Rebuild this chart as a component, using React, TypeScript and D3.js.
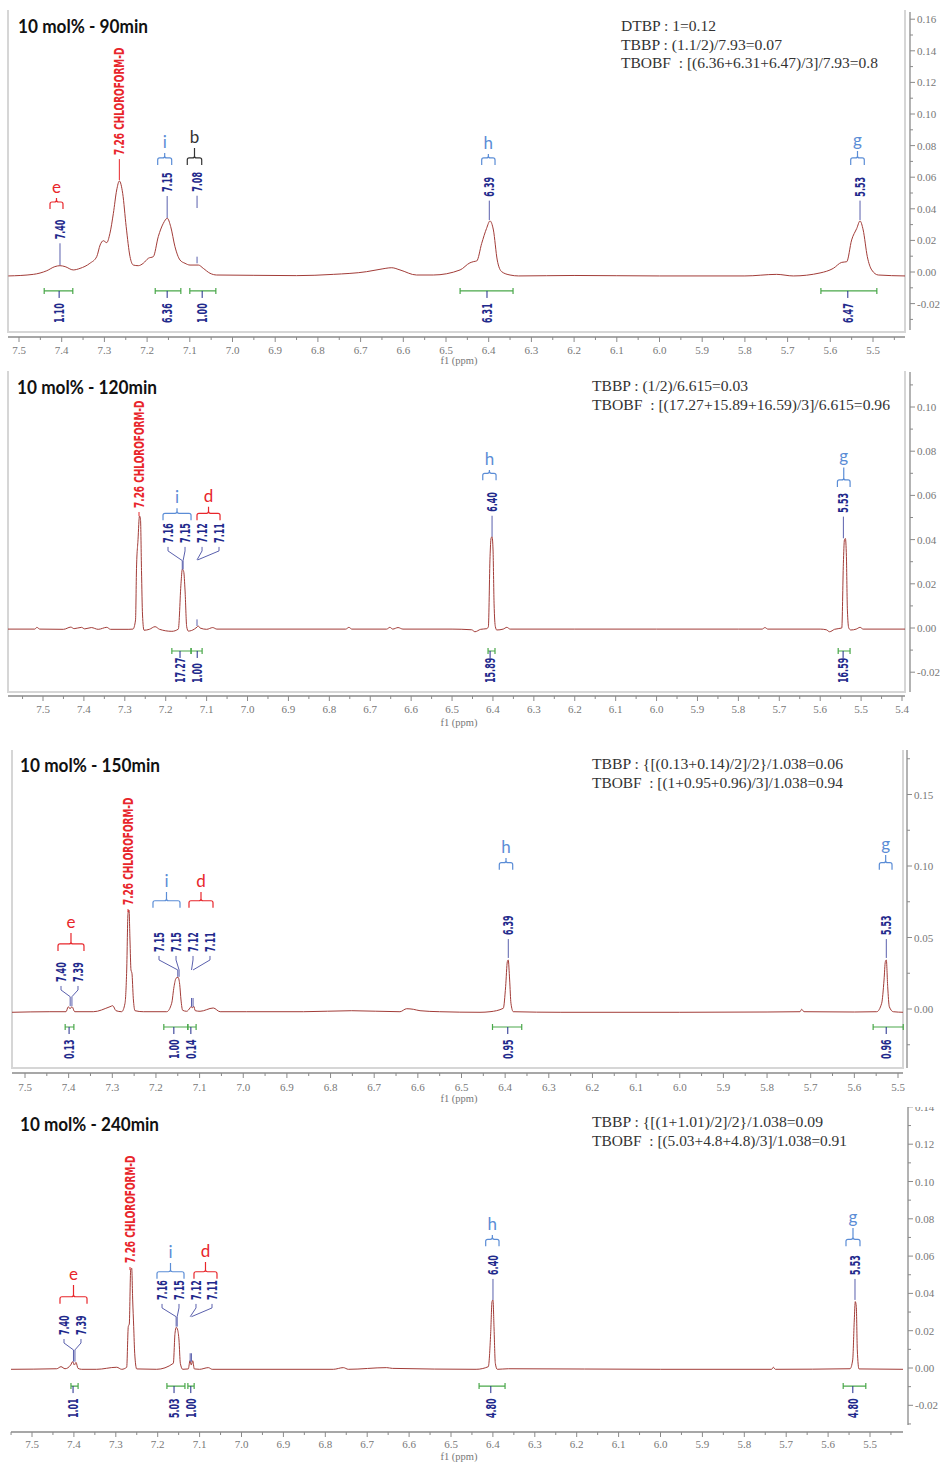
import React from 'react';
import * as d3 from 'd3';

type Pt = [number, number];
interface PeakLabel { text: string; at: number; peak: number; base: number; bend: number; end?: number; mark?: [number, number]; solvent?: boolean; }
interface Group { letter: string; from: number; to: number; bar: number; text: number; }
interface Integral { text: string; from: number; to: number; at: number; }

// ---------------- data ----------------
const titles = ['10 mol% - 90min', '10 mol% - 120min', '10 mol% - 150min', '10 mol% - 240min'];

const spectrum90: Pt[] = [
  [7.525, -0.0025], [7.4665, -0.0015], [7.435, 0.0008], [7.416, 0.0034], [7.404, 0.004], [7.392, 0.0034],
  [7.373, 0.0013], [7.357, 0.0023], [7.334, 0.0055], [7.318, 0.0097], [7.31, 0.0171], [7.3026, 0.0198],
  [7.2946, 0.0186], [7.287, 0.0245], [7.279, 0.0371], [7.2712, 0.0519], [7.265, 0.0576], [7.2572, 0.0498],
  [7.249, 0.0287], [7.24, 0.0097], [7.2323, 0.0044], [7.2206, 0.004], [7.209, 0.0055], [7.197, 0.0087],
  [7.1855, 0.0097], [7.1738, 0.0224], [7.162, 0.0308], [7.1527, 0.034], [7.1447, 0.0287], [7.1347, 0.016],
  [7.123, 0.0076], [7.1112, 0.0055], [7.0995, 0.0044], [7.08, 0.0044], [7.0684, 0.0023], [7.0527, -0.0008],
  [7.037, -0.0019], [6.95, -0.0021], [6.85, -0.0023], [6.764, -0.0015], [6.686, 0.0002], [6.6546, 0.0017],
  [6.627, 0.0027], [6.6077, 0.0013], [6.569, -0.0019], [6.5297, -0.0019], [6.467, 0.0013], [6.444, 0.0058],
  [6.435, 0.0066], [6.428, 0.007], [6.4164, 0.0181], [6.405, 0.0276], [6.397, 0.0323], [6.389, 0.0266],
  [6.38, 0.0076], [6.3696, 0.0002], [6.35, -0.0019], [6.33, -0.0025], [6.2, -0.0022], [6.0, -0.0025],
  [5.8, -0.0025], [5.7255, -0.0015], [5.6866, -0.0025], [5.624, -0.0006], [5.593, 0.0023], [5.5733, 0.0061],
  [5.5616, 0.0065], [5.55, 0.0203], [5.538, 0.0276], [5.5304, 0.0323], [5.523, 0.0266], [5.5133, 0.0097],
  [5.503, 0.0013], [5.4876, -0.0019], [5.425, -0.0025],
];

const spectrum120: Pt[] = [
  [7.586, -0.0005], [7.52, -0.0005], [7.515, 0.0003], [7.508, -0.0005], [7.45, -0.0006], [7.432, 0.0004],
  [7.424, -0.0003], [7.406, 0.0003], [7.398, -0.0004], [7.382, 0.0002], [7.365, -0.0006], [7.344, 0.0003],
  [7.335, -0.0006], [7.29, -0.0006], [7.28, -0.0005], [7.2738, 0.0036], [7.2714, 0.027], [7.2677, 0.04],
  [7.2641, 0.0507], [7.2616, 0.049], [7.2592, 0.026], [7.2567, 0.0059], [7.2531, -0.001], [7.24, -0.0006],
  [7.226, 0.0006], [7.215, -0.0006], [7.185, -0.0015], [7.1692, -0.0005], [7.1626, 0.0202], [7.1594, 0.0266],
  [7.156, 0.0255], [7.1528, 0.0172], [7.1487, 0.0006], [7.1447, -0.0014], [7.13, -0.0005], [7.1235, 0.0004],
  [7.1205, 0.0009], [7.116, 0.0], [7.1, -0.0006], [7.085, 0.0002], [7.075, -0.0005], [6.76, -0.0005],
  [6.752, 0.0003], [6.745, -0.0005], [6.66, -0.0005], [6.652, 0.0003], [6.645, -0.0005], [6.632, 0.0002],
  [6.62, -0.0005], [6.5, -0.0005], [6.452, -0.0008], [6.444, -0.0017], [6.43, -0.0006], [6.415, -0.0003],
  [6.4112, 0.0006], [6.4071, 0.0323], [6.4046, 0.0406], [6.4022, 0.0413], [6.3998, 0.0353], [6.3973, 0.0112],
  [6.3941, 0.0006], [6.3907, -0.0009], [6.375, -0.0005], [6.366, 0.0003], [6.358, -0.0005], [6.2, -0.0005],
  [6.0, -0.0005], [5.8, -0.0005], [5.742, -0.0005], [5.735, 0.0002], [5.728, -0.0005], [5.6, -0.0005],
  [5.585, -0.0008], [5.577, -0.0017], [5.565, -0.0006], [5.5472, 0.0], [5.5433, 0.0293], [5.5408, 0.0398],
  [5.5384, 0.0405], [5.5359, 0.0323], [5.5335, 0.0081], [5.5301, 0.0], [5.5252, -0.0009], [5.512, -0.0005],
  [5.5025, 0.0003], [5.495, -0.0005], [5.392, -0.0005],
];

const spectrum150: Pt[] = [
  [7.53, -0.0023], [7.443, -0.0019], [7.4061, -0.0019], [7.4008, 0.0016], [7.3969, 0.0002], [7.3923, 0.0016],
  [7.3861, -0.0019], [7.3435, -0.0019], [7.3053, 0.0016], [7.299, 0.0023], [7.2915, -0.0012], [7.2785, -0.0019],
  [7.2709, 0.004], [7.267, 0.0273], [7.264, 0.0669], [7.2617, 0.0692], [7.2595, 0.0483], [7.2572, 0.0273],
  [7.255, 0.025], [7.2519, 0.0075], [7.248, -0.0012], [7.229, -0.0019], [7.1754, -0.0019], [7.164, 0.004],
  [7.1586, 0.0156], [7.154, 0.0215], [7.1495, 0.0222], [7.1456, 0.0172], [7.1426, 0.0063], [7.1388, -0.0009],
  [7.1296, -0.0016], [7.122, 0.0007], [7.119, 0.0019], [7.1167, 0.0007], [7.1135, 0.0019], [7.1098, -0.0012],
  [7.099, -0.0016], [7.0686, 0.0007], [7.053, -0.0019], [6.992, -0.0019], [6.862, -0.0019], [6.7516, -0.0012],
  [6.641, -0.0019], [6.6256, 0.0002], [6.6104, -0.0002], [6.595, -0.0012], [6.55, -0.0019], [6.4576, -0.0023],
  [6.4347, -0.0019], [6.4043, 0.0005], [6.3989, 0.0156], [6.395, 0.0331], [6.393, 0.0343], [6.3897, 0.0203],
  [6.3867, 0.004], [6.3813, -0.0019], [6.274, -0.0023], [6.0, -0.0023], [5.8, -0.0021], [5.7245, -0.0019],
  [5.7207, -0.0002], [5.7154, -0.0019], [5.6, -0.0021], [5.5488, -0.0019], [5.5374, 0.004], [5.532, 0.0203],
  [5.529, 0.0331], [5.5268, 0.0343], [5.5236, 0.0156], [5.5199, 0.0016], [5.5107, -0.0019], [5.4878, -0.0023],
];

const spectrum240: Pt[] = [
  [7.5501, -0.0007], [7.441, -0.0004], [7.4308, 0.0007], [7.4212, -0.0004], [7.4077, 0.0016], [7.4029, 0.0034],
  [7.399, 0.0016], [7.395, 0.003], [7.3902, -0.0002], [7.3814, -0.0007], [7.3456, -0.0007], [7.2978, 0.0004],
  [7.2859, -0.0007], [7.274, 0.0004], [7.2702, 0.0222], [7.2678, 0.0236], [7.2645, 0.0525], [7.262, 0.0535],
  [7.2597, 0.0365], [7.2573, 0.0222], [7.2549, 0.0079], [7.2501, -0.0005], [7.2024, -0.0007], [7.1627, 0.0025],
  [7.1587, 0.0186], [7.1556, 0.0218], [7.1523, 0.0204], [7.1492, 0.015], [7.146, 0.0025], [7.1403, -0.0007],
  [7.127, -0.0005], [7.1229, 0.0039], [7.1198, 0.0016], [7.1165, 0.0039], [7.1126, -0.0005], [7.1, -0.0007],
  [7.0792, 0.0002], [7.07, -0.0007], [6.7808, -0.0007], [6.757, 0.0002], [6.745, -0.0007], [6.6535, 0.0002],
  [6.64, -0.0002], [6.44, -0.0007], [6.411, 0.0007], [6.4053, 0.0186], [6.4021, 0.0356], [6.3998, 0.0365],
  [6.3974, 0.0222], [6.3942, 0.0025], [6.3895, -0.0007], [6.3632, -0.0004], [6.0, -0.0007], [5.7346, -0.0007],
  [5.7308, 0.0004], [5.726, -0.0007], [5.5477, -0.0004], [5.5413, 0.0043], [5.5375, 0.0257], [5.5351, 0.0356],
  [5.5327, 0.0329], [5.5303, 0.0097], [5.5263, -0.0005], [5.4205, -0.0007],
];

const peaks90: PeakLabel[] = [
  { text: '7.26 CHLOROFORM-D', at: 7.265, peak: 7.265, base: 0.074, bend: 0.0582, solvent: true },
  { text: '7.40', at: 7.404, peak: 7.404, base: 0.0207, bend: 0.0044 },
  { text: '7.15', at: 7.153, peak: 7.153, base: 0.0506, bend: 0.0342 },
  { text: '7.08', at: 7.083, peak: 7.083, base: 0.0508, bend: 0.0405, mark: [0.0097, 0.0055] },
  { text: '6.39', at: 6.3986, peak: 6.3986, base: 0.0477, bend: 0.0329 },
  { text: '5.53', at: 5.5304, peak: 5.5304, base: 0.0477, bend: 0.0329 },
];
const peaks120: PeakLabel[] = [
  { text: '7.26 CHLOROFORM-D', at: 7.2653, peak: 7.2653, base: 0.0543, bend: 0.0507, solvent: true },
  { text: '7.16', at: 7.1944, peak: 7.1595, base: 0.0385, bend: 0.0305, end: 0.0265 },
  { text: '7.15', at: 7.1528, peak: 7.1575, base: 0.0385, bend: 0.0305, end: 0.0265 },
  { text: '7.12', at: 7.1112, peak: 7.1235, base: 0.0385, bend: 0.0308, mark: [0.0039, 0.0009] },
  { text: '7.11', at: 7.0697, peak: 7.122, base: 0.0385, bend: 0.0308 },
  { text: '6.40', at: 6.4022, peak: 6.4022, base: 0.0526, bend: 0.0413 },
  { text: '5.53', at: 5.5433, peak: 5.5433, base: 0.0522, bend: 0.0406 },
];
const peaks150: PeakLabel[] = [
  { text: '7.26 CHLOROFORM-D', at: 7.264, peak: 7.264, base: 0.0727, bend: 0.0678, solvent: true },
  { text: '7.40', at: 7.4175, peak: 7.3965, base: 0.0189, bend: 0.0086, end: 0.002 },
  { text: '7.39', at: 7.3786, peak: 7.3925, base: 0.0189, bend: 0.0086, end: 0.002 },
  { text: '7.15', at: 7.193, peak: 7.15, base: 0.0399, bend: 0.0273, end: 0.0225 },
  { text: '7.15', at: 7.154, peak: 7.147, base: 0.0399, bend: 0.0273, end: 0.0225 },
  { text: '7.12', at: 7.1151, peak: 7.1185, base: 0.0399, bend: 0.0273, mark: [0.0077, 0.0016] },
  { text: '7.11', at: 7.0762, peak: 7.115, base: 0.0399, bend: 0.0273, mark: [0.0077, 0.0016] },
  { text: '6.39', at: 6.3928, peak: 6.3928, base: 0.0517, bend: 0.0357 },
  { text: '5.53', at: 5.5268, peak: 5.5268, base: 0.0517, bend: 0.0357 },
];
const peaks240: PeakLabel[] = [
  { text: '7.26 CHLOROFORM-D', at: 7.2661, peak: 7.2661, base: 0.0563, bend: 0.0525, solvent: true },
  { text: '7.40', at: 7.4236, peak: 7.401, base: 0.0177, bend: 0.0097, end: 0.0034 },
  { text: '7.39', at: 7.3831, peak: 7.3975, base: 0.0177, bend: 0.0097, end: 0.0034 },
  { text: '7.16', at: 7.1897, peak: 7.156, base: 0.0365, bend: 0.0275, end: 0.0222 },
  { text: '7.15', at: 7.1492, peak: 7.1535, base: 0.0365, bend: 0.0275, end: 0.0222 },
  { text: '7.12', at: 7.1086, peak: 7.1225, base: 0.0365, bend: 0.0275, mark: [0.0079, 0.0034] },
  { text: '7.11', at: 7.0704, peak: 7.1195, base: 0.0365, bend: 0.0275, mark: [0.0079, 0.0034] },
  { text: '6.40', at: 6.3998, peak: 6.3998, base: 0.0499, bend: 0.0365 },
  { text: '5.53', at: 5.5358, peak: 5.5358, base: 0.0499, bend: 0.0365 },
];

const groups90: Group[] = [
  { letter: 'e', from: 7.4274, to: 7.397, bar: 0.0443, text: 0.05 },
  { letter: 'i', from: 7.1752, to: 7.1424, bar: 0.0722, text: 0.0785 },
  { letter: 'b', from: 7.1059, to: 7.0721, bar: 0.0722, text: 0.0816 },
  { letter: 'h', from: 6.4164, to: 6.3852, bar: 0.0722, text: 0.0778 },
  { letter: 'g', from: 5.5522, to: 5.5204, bar: 0.0722, text: 0.0797 },
];
const groups120: Group[] = [
  { letter: 'i', from: 7.2066, to: 7.1381, bar: 0.0519, text: 0.0564 },
  { letter: 'd', from: 7.1235, to: 7.0672, bar: 0.0519, text: 0.0571 },
  { letter: 'h', from: 6.4249, to: 6.3924, bar: 0.07, text: 0.0738 },
  { letter: 'g', from: 5.5579, to: 5.5269, bar: 0.067, text: 0.0749 },
];
const groups150: Group[] = [
  { letter: 'e', from: 7.4244, to: 7.3649, bar: 0.0455, text: 0.0566 },
  { letter: 'i', from: 7.2068, to: 7.1449, bar: 0.0757, text: 0.0853 },
  { letter: 'd', from: 7.1243, to: 7.0693, bar: 0.0757, text: 0.0853 },
  { letter: 'h', from: 6.4134, to: 6.3827, bar: 0.1023, text: 0.1091 },
  { letter: 'g', from: 5.5428, to: 5.5137, bar: 0.1023, text: 0.1112 },
];
const groups240: Group[] = [
  { letter: 'e', from: 7.4332, to: 7.3687, bar: 0.0382, text: 0.0472 },
  { letter: 'i', from: 7.2017, to: 7.1372, bar: 0.0516, text: 0.059 },
  { letter: 'd', from: 7.1134, to: 7.0585, bar: 0.0516, text: 0.0595 },
  { letter: 'h', from: 6.4172, to: 6.3854, bar: 0.069, text: 0.074 },
  { letter: 'g', from: 5.5573, to: 5.5239, bar: 0.069, text: 0.0777 },
];

const integrals90: Integral[] = [
  { text: '1.10', from: 7.441, to: 7.374, at: 7.406 },
  { text: '6.36', from: 7.181, to: 7.121, at: 7.153 },
  { text: '1.00', from: 7.1, to: 7.039, at: 7.071 },
  { text: '6.31', from: 6.467, to: 6.343, at: 6.404 },
  { text: '6.47', from: 5.622, to: 5.491, at: 5.559 },
];
const integrals120: Integral[] = [
  { text: '17.27', from: 7.185, to: 7.138, at: 7.165 },
  { text: '1.00', from: 7.138, to: 7.111, at: 7.123 },
  { text: '15.89', from: 6.412, to: 6.395, at: 6.407 },
  { text: '16.59', from: 5.556, to: 5.527, at: 5.544 },
];
const integrals150: Integral[] = [
  { text: '0.13', from: 7.408, to: 7.388, at: 7.399 },
  { text: '1.00', from: 7.182, to: 7.127, at: 7.159 },
  { text: '0.14', from: 7.127, to: 7.108, at: 7.12 },
  { text: '0.95', from: 6.429, to: 6.362, at: 6.394 },
  { text: '0.96', from: 5.557, to: 5.488, at: 5.527 },
];
const integrals240: Integral[] = [
  { text: '1.01', from: 7.407, to: 7.39, at: 7.402 },
  { text: '5.03', from: 7.178, to: 7.135, at: 7.161 },
  { text: '1.00', from: 7.128, to: 7.113, at: 7.121 },
  { text: '4.80', from: 6.433, to: 6.371, at: 6.405 },
  { text: '4.80', from: 5.564, to: 5.51, at: 5.541 },
];
const integralLevels = [-0.012, -0.0104, -0.0126, -0.0097];

const formulas90 = ['DTBP : 1=0.12', 'TBBP : (1.1/2)/7.93=0.07', 'TBOBF  : [(6.36+6.31+6.47)/3]/7.93=0.8'];
const formulas120 = ['TBBP : (1/2)/6.615=0.03', 'TBOBF  : [(17.27+15.89+16.59)/3]/6.615=0.96'];
const formulas150 = ['TBBP : {[(0.13+0.14)/2]/2}/1.038=0.06', 'TBOBF  : [(1+0.95+0.96)/3]/1.038=0.94'];
const formulas240 = ['TBBP : {[(1+1.01)/2]/2}/1.038=0.09', 'TBOBF  : [(5.03+4.8+4.8)/3]/1.038=0.91'];

const spectra = [spectrum90, spectrum120, spectrum150, spectrum240];
const peakSets = [peaks90, peaks120, peaks150, peaks240];
const groupSets = [groups90, groups120, groups150, groups240];
const integralSets = [integrals90, integrals120, integrals150, integrals240];
const formulaSets = [formulas90, formulas120, formulas150, formulas240];

// ---------------- layout & style ----------------
const layouts = [
  { clip: [0, 368], xDomain: [7.5, 5.5], xRange: [19, 873], yDomain: [0, 0.16], yRange: [272, 19.2],
    frame: { l: 8, r: 905, t: 10, b: 332, show: true }, axisY: 337, tickLabelY: 354, unitY: 364,
    yAxisX: 910, yAxisTop: 12, yAxisBottom: 330, yMajor: 0.02, yMinor: 0.01,
    title: [18, 33, 130], formulaX: 621, formulaY: [31, 49.5, 68], formulaW: [95, 161, 257] },
  { clip: [368, 732], xDomain: [7.5, 5.4], xRange: [43, 902], yDomain: [0, 0.1], yRange: [628, 407],
    frame: { l: 8, r: 905, t: 371, b: 692, show: true }, axisY: 696, tickLabelY: 713, unitY: 726,
    yAxisX: 910, yAxisTop: 372, yAxisBottom: 692, yMajor: 0.02, yMinor: 0.01,
    title: [17, 394, 140], formulaX: 592, formulaY: [391, 410], formulaW: [156, 298] },
  { clip: [738, 1104], xDomain: [7.5, 5.5], xRange: [25, 898], yDomain: [0, 0.15], yRange: [1009, 794.5],
    frame: { l: 12, r: 903, t: 750, b: 1068, show: true }, axisY: 1073, tickLabelY: 1091, unitY: 1102,
    yAxisX: 907, yAxisTop: 750, yAxisBottom: 1068, yMajor: 0.05, yMinor: 0.025,
    title: [20, 772, 140], formulaX: 592, formulaY: [769, 788], formulaW: [251, 251] },
  { clip: [1107, 1462], xDomain: [7.5, 5.5], xRange: [32, 870], yDomain: [0, 0.12], yRange: [1368, 1144.2],
    frame: { l: 11, r: 903, t: 1107, b: 1428, show: false }, axisY: 1432, tickLabelY: 1448, unitY: 1460,
    yAxisX: 908, yAxisTop: 1107, yAxisBottom: 1425, yMajor: 0.02, yMinor: 0.01,
    title: [20, 1131, 139], formulaX: 592, formulaY: [1127, 1146], formulaW: [231, 255] },
];

const C = {
  line: '#a23c38', navy: '#1f2a8c', connector: '#5a60ad', red: '#e8262b', green: '#4aa84a',
  axis: '#8a8a8a', tick: '#777777', frame: '#d6d6d6', formula: '#333333', title: '#111111',
};
const letterColor: Record<string, string> = { e: '#e8262b', d: '#e8262b', i: '#5b8dd6', h: '#5b8dd6', g: '#5b8dd6', b: '#333333' };

const LABEL_FONT = "'DejaVu Sans', 'Liberation Sans', sans-serif";
const SERIF = "'Liberation Serif', 'DejaVu Serif', serif";

function VText({ x, y, text, color, sx }: { x: number; y: number; text: string; color: string; sx: number }) {
  return (
    <text transform={`translate(${x},${y}) rotate(-90) scale(${sx},1)`} fontFamily={LABEL_FONT}
      fontWeight="bold" fontSize={14} fill={color} dominantBaseline="central" textAnchor="start">{text}</text>
  );
}

function Panel({ idx }: { idx: number }) {
  const L = layouts[idx];
  const x = d3.scaleLinear().domain(L.xDomain).range(L.xRange);
  const y = d3.scaleLinear().domain(L.yDomain).range(L.yRange);
  const line = d3.line<Pt>().x(d => x(d[0])).y(d => y(d[1])).curve(d3.curveMonotoneX);
  const clipId = `clip${idx}`;
  const plotClip = `pclip${idx}`;

  const pL = x.invert(L.frame.l), pR = x.invert(L.frame.r);
  const kMin = Math.ceil(Math.min(pL, pR) / 0.05 - 1e-6), kMax = Math.floor(Math.max(pL, pR) / 0.05 + 1e-6);
  const xTicks = d3.range(kMin, kMax + 1).map(k => ({ v: k * 0.05, major: k % 2 === 0 }));

  const vBot = y.invert(L.yAxisBottom), vTop = y.invert(L.yAxisTop - 4);
  const mMin = Math.ceil(vBot / L.yMinor - 1e-6), mMax = Math.floor(vTop / L.yMinor + 1e-6);
  const ratio = Math.round(L.yMajor / L.yMinor);
  const yTicks = d3.range(mMin, mMax + 1).map(k => ({ v: k * L.yMinor, major: k % ratio === 0 }));

  const lvl = y(integralLevels[idx]);

  return (
    <g clipPath={`url(#${clipId})`}>
      <defs>
        <clipPath id={clipId}><rect x={0} y={L.clip[0]} width={941} height={L.clip[1] - L.clip[0]} /></clipPath>
        <clipPath id={plotClip}><rect x={L.frame.l} y={L.clip[0]} width={L.frame.r - L.frame.l} height={L.frame.b - L.clip[0]} /></clipPath>
      </defs>
      {L.frame.show && (
        <path d={`M${L.frame.l},${L.frame.t}V${L.frame.b}H${L.frame.r}V${L.frame.t}`} fill="none" stroke={C.frame} strokeWidth={2} />
      )}
      <text x={L.title[0]} y={L.title[1]} fontFamily="Lato, 'Open Sans', sans-serif" fontWeight="bold" fontSize={18}
        fill={C.title} textLength={L.title[2]} lengthAdjust="spacingAndGlyphs">{titles[idx]}</text>
      {formulaSets[idx].map((f, i) => (
        <text key={i} x={L.formulaX} y={L.formulaY[i]} fontFamily={SERIF} fontSize={15} fill={C.formula}
          textLength={L.formulaW[i]} lengthAdjust="spacingAndGlyphs" style={{ whiteSpace: 'pre' }}>{f}</text>
      ))}
      <path d={line(spectra[idx]) || ''} fill="none" stroke={C.line} strokeWidth={1} clipPath={`url(#${plotClip})`} />
      {peakSets[idx].map((p, i) => {
        const xa = x(p.at), xp = x(p.peak), yb = y(p.base) + 4;
        let d = Math.abs(xa - xp) < 0.6 ? `M${xa},${yb}L${xp},${y(p.bend)}` : `M${xa},${yb}L${xa},${yb + 4}L${xp},${y(p.bend)}`;
        if (p.end !== undefined) d += `L${xp},${y(p.end)}`;
        if (p.mark) d += `M${xp},${y(p.mark[0])}L${xp},${y(p.mark[1])}`;
        const col = p.solvent ? C.red : C.navy;
        return (
          <g key={i}>
            <path d={d} fill="none" stroke={p.solvent ? C.red : C.connector} strokeWidth={1} />
            <VText x={xa} y={y(p.base)} text={p.text} color={col} sx={p.solvent ? 0.64 : 0.57} />
          </g>
        );
      })}
      {groupSets[idx].map((g, i) => {
        const x1 = Math.min(x(g.from), x(g.to)), x2 = Math.max(x(g.from), x(g.to));
        const xm = (x1 + x2) / 2, yb = y(g.bar), ys = Math.min(y(g.text) + 5, yb - 3), dr = 7;
        const d = `M${x1},${yb + dr}L${x1},${yb + 2}Q${x1},${yb} ${x1 + 2},${yb}L${xm - 2},${yb}Q${xm},${yb} ${xm},${yb - 2}L${xm},${ys}` +
          `M${xm},${yb - 2}Q${xm},${yb} ${xm + 2},${yb}L${x2 - 2},${yb}Q${x2},${yb} ${x2},${yb + 2}L${x2},${yb + dr}`;
        const col = letterColor[g.letter];
        return (
          <g key={i}>
            <path d={d} fill="none" stroke={col} strokeWidth={1.2} />
            <text x={xm} y={y(g.text)} textAnchor="middle" fontFamily="Lato, 'Open Sans', sans-serif" fontSize={17} fill={col}>{g.letter}</text>
          </g>
        );
      })}
      {integralSets[idx].map((it, i) => {
        const a = x(it.from), b = x(it.to), c = x(it.at);
        return (
          <g key={i}>
            <path d={`M${a},${lvl}H${b}M${a},${lvl - 3}V${lvl + 3}M${b},${lvl - 3}V${lvl + 3}`} fill="none" stroke={C.green} strokeWidth={1.2} />
            <path d={`M${c},${lvl}V${lvl + 7}`} stroke={C.navy} strokeWidth={1} />
            <VText x={c} y={lvl + 32} text={it.text} color={C.navy} sx={0.57} />
          </g>
        );
      })}
      <line x1={L.frame.l} x2={L.frame.r} y1={L.axisY} y2={L.axisY} stroke={C.axis} strokeWidth={1.3} />
      {xTicks.map((t, i) => (
        <line key={i} x1={x(t.v)} x2={x(t.v)} y1={L.axisY} y2={L.axisY + (t.major ? 5 : 3)} stroke={C.axis} strokeWidth={1} />
      ))}
      {xTicks.filter(t => t.major).map((t, i) => (
        <text key={i} x={x(t.v)} y={L.tickLabelY} textAnchor="middle" fontFamily={SERIF} fontSize={11} fill={C.tick}>{t.v.toFixed(1)}</text>
      ))}
      <text x={459} y={L.unitY} textAnchor="middle" fontFamily={SERIF} fontSize={10.5} fill={C.tick}>f1 (ppm)</text>
      <line x1={L.yAxisX} x2={L.yAxisX} y1={L.yAxisTop} y2={L.yAxisBottom} stroke={C.axis} strokeWidth={1.3} />
      {yTicks.map((t, i) => (
        <line key={i} x1={L.yAxisX} x2={L.yAxisX + (t.major ? 5 : 3)} y1={y(t.v)} y2={y(t.v)} stroke={C.axis} strokeWidth={1} />
      ))}
      {yTicks.filter(t => t.major).map((t, i) => (
        <text key={i} x={L.yAxisX + 7} y={y(t.v)} dominantBaseline="central" fontFamily={SERIF} fontSize={11} fill={C.tick}>
          {(Math.abs(t.v) < 1e-9 ? 0 : t.v).toFixed(2)}
        </text>
      ))}
    </g>
  );
}

export default function App() {
  return (
    <div style={{ position: 'absolute', left: 0, top: 0, width: 941, height: 1462, background: '#fff' }}>
      <svg width={941} height={1462} viewBox="0 0 941 1462" style={{ display: 'block' }}>
        <rect x={0} y={0} width={941} height={1462} fill="#fff" />
        {[0, 1, 2, 3].map(i => <Panel key={i} idx={i} />)}
      </svg>
    </div>
  );
}
